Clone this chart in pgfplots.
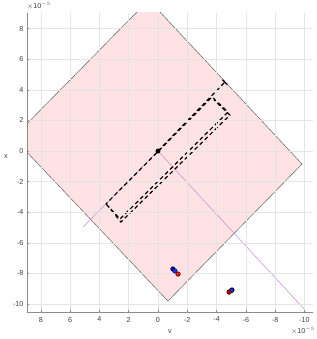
\documentclass[border=0pt]{standalone}
\usepackage{pgfplots}
\pgfplotsset{compat=1.18}
\usepackage{fontspec}
\setmainfont{Liberation Sans}
\definecolor{pinkfill}{rgb}{1,0.886,0.894}
\definecolor{purp}{rgb}{0.78,0.55,0.82}
\definecolor{tickgray}{rgb}{0.25,0.25,0.25}
\begin{document}
\begin{tikzpicture}
\path[use as bounding box] (-27pt,-27pt) rectangle (289pt,312pt);
\begin{axis}[
  scale only axis,
  width=286pt, height=299pt,
  x dir=reverse,
  xmin=-10.58, xmax=8.94,
  ymin=-10.52, ymax=9.02,
  xtick={-10,-8,...,8}, ytick={-10,-8,...,8},
  axis lines*=left,
  axis line style={draw=black!45, line width=0.7pt},
  tick style={draw=black!45, line width=0.5pt},
  tick align=inside,
  major tick length=2.5pt,
  grid=major,
  major grid style={draw=black!10, line width=0.5pt},
  axis on top,
  ticklabel style={font=\fontsize{7.2}{8}\selectfont, text=tickgray},
  /pgf/number format/assume math mode=true,
  xticklabel={\pgfmathprintnumber[assume math mode=true]{\tick}},
  yticklabel={\pgfmathprintnumber[assume math mode=true]{\tick}},
  xticklabel style={yshift=-1.5pt},
  xlabel={v},
  label style={font=\fontsize{7.2}{8}\selectfont, text=tickgray},
  xlabel style={at={(axis description cs:0.5,0)}, anchor=north, yshift=-14pt},
  clip=true,
]
% pink region
\addplot[fill=pinkfill, draw=black!65, line width=0.45pt] coordinates {
  (9.88,0.87) (0.63,9.87) (-9.83,-0.85) (-0.68,-9.8) (9.88,0.87)} -- cycle;
% purple thin lines
\addplot[purp, line width=0.5pt] coordinates {(5.1,-4.95) (0,0)};
\addplot[purp, line width=0.5pt] coordinates {(0,0) (-10.05,-10.4)};
% dashed rectangles
\addplot[black, line width=1.2pt, dash pattern=on 4pt off 3pt] coordinates {
  (3.55,-3.46) (2.59,-4.44) (-4.78,2.55) (-3.69,3.53) (3.55,-3.46)};
\addplot[black, line width=1.2pt, dash pattern=on 4pt off 3pt, dash phase=2pt] coordinates {
  (3.41,-3.59) (2.53,-4.64) (-4.91,2.35) (-3.82,3.33)};
\addplot[black, line width=1.2pt, dash pattern=on 4pt off 3pt] coordinates {
  (0,0) (-4.57,4.51)};
\addplot[black, line width=1.1pt] coordinates {(-4.40,4.66) (-4.74,4.33)};
% points
\addplot[only marks, mark=*, mark size=2.2pt, black] coordinates {(0,0)};
\addplot[only marks, mark=*, mark size=2.3pt, draw=none, fill={rgb,1:red,0;green,0;blue,0.8}] coordinates {(-1.02,-7.71) (-5.05,-9.08)};
\addplot[only marks, mark=*, mark size=2.3pt, draw=none, fill={rgb,1:red,0.1;green,0.2;blue,1}] coordinates {(-1.16,-7.84) (-5.0,-9.12)};
\addplot[only marks, mark=*, mark size=2.3pt, draw=none, fill={rgb,1:red,0.75;green,0;blue,0}] coordinates {(-4.85,-9.22)};
\addplot[only marks, mark=*, mark size=2.3pt, draw=none, fill={rgb,1:red,1;green,0.1;blue,0.05}] coordinates {(-1.37,-8.04)};
\end{axis}
\node[font=\fontsize{7.2}{8}\selectfont, text=tickgray, inner sep=0pt] at (-21pt,155pt) {x};
\node[anchor=south west, font=\fontsize{7.2}{8}\selectfont, text=tickgray, inner sep=0pt] at (0pt,302pt) {$\times$10$^{-5}$};
\node[anchor=north east, font=\fontsize{7.2}{8}\selectfont, text=tickgray, inner sep=0pt] at (288pt,-15pt) {$\times$10$^{-5}$};
\end{tikzpicture}
\end{document}
